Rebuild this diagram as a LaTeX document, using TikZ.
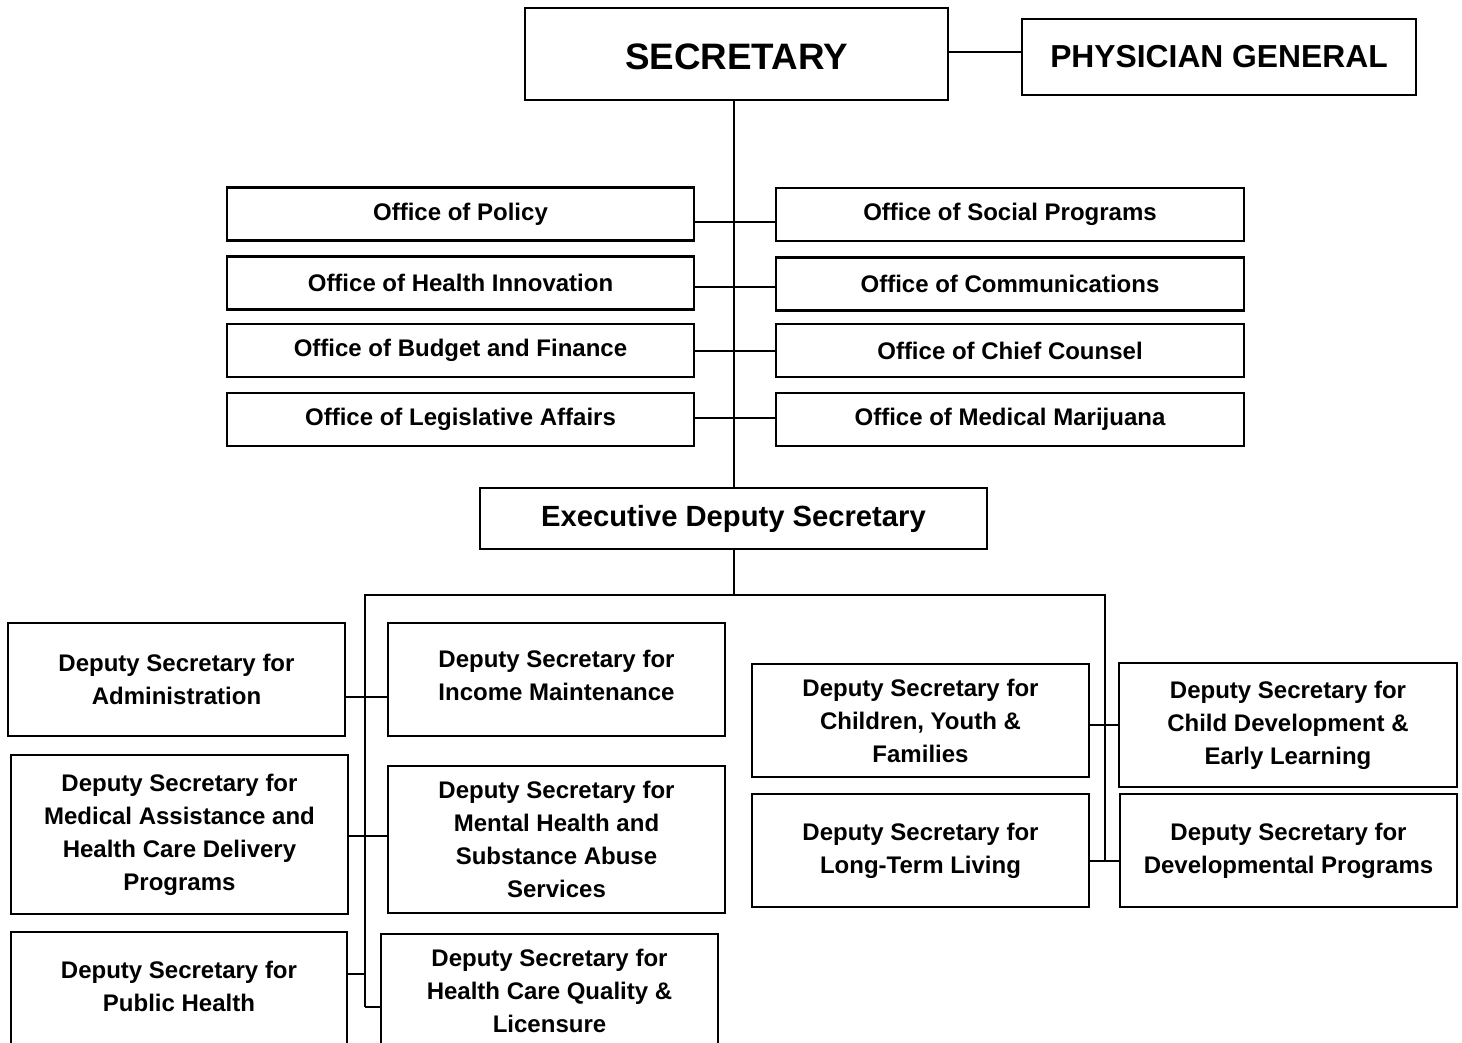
\documentclass[tikz,border=0pt]{standalone}
\usepackage{fontspec}
\setmainfont{Liberation Sans}
\begin{document}
\begin{tikzpicture}[x=0.5pt,y=-0.5pt,
  box/.style={draw=black,line width=1.1pt,rectangle,inner sep=0pt,align=center,font=\bfseries\fontsize{12}{16.5}\selectfont},
  txt/.style={inner sep=0pt,align=center,font=\bfseries\fontsize{12}{16.5}\selectfont},
  link/.style={draw=black,line width=1pt}]
\clip (0,0) rectangle (1462,1043);
% top
\node[box,minimum width=211.5pt,minimum height=46pt] (sec) at (736.5,54) {};
\node[txt,font=\bfseries\fontsize{18.4}{22}\selectfont] (sect) at (736.5,57) {SECRETARY};
\node[box,minimum width=197pt,minimum height=38pt,font=\bfseries\fontsize{15.9}{19}\selectfont] (phys) at (1219,57) {PHYSICIAN GENERAL};
% offices
\node[box,minimum width=233.5pt,minimum height=26.5pt] (pol) at (460.5,214) {Office of Policy};
\node[box,minimum width=233.5pt,minimum height=26.5pt] (inn) at (460.5,283) {Office of Health Innovation};
\node[box,minimum width=233.5pt,minimum height=26.5pt] (bud) at (460.5,350.5) {Office of Budget and Finance};
\node[box,minimum width=233.5pt,minimum height=26.5pt] (leg) at (460.5,419.5) {Office of Legislative Affairs};
\node[box,minimum width=234pt,minimum height=26.5pt] (soc) at (1010,214.5) {Office of Social Programs};
\node[box,minimum width=234pt,minimum height=26.5pt] (com) at (1010,284) {Office of Communications};
\node[box,minimum width=234pt,minimum height=26.5pt] (cc) at (1010,350.5) {Office of Chief Counsel};
\node[box,minimum width=234pt,minimum height=26.5pt] (mm) at (1010,419.5) {Office of Medical Marijuana};
% executive
\node[box,minimum width=253.5pt,minimum height=30.5pt,font=\bfseries\fontsize{14.6}{17}\selectfont] (exec) at (733.5,518.5) {Executive Deputy Secretary};
% deputies left
\node[box,minimum width=168.5pt,minimum height=56.5pt] (adm) at (176.5,679.5) {Deputy Secretary for\\Administration};
\node[box,minimum width=168.5pt,minimum height=79.5pt] (med) at (179.5,834.5) {Deputy Secretary for\\Medical Assistance and\\Health Care Delivery\\Programs};
\node[box,minimum width=168pt,minimum height=64.5pt,anchor=north] (ph) at (179,931) {};
\node[txt] (pht) at (179,986) {Deputy Secretary for\\Public Health};
\node[box,minimum width=168.5pt,minimum height=56.5pt] (inc) at (556.5,679.5) {};
\node[txt] (inct) at (556.5,675) {Deputy Secretary for\\Income Maintenance};
\node[box,minimum width=168.5pt,minimum height=73.5pt] (men) at (556.5,839.5) {Deputy Secretary for\\Mental Health and\\Substance Abuse\\Services};
\node[box,minimum width=168.5pt,minimum height=64.5pt,anchor=north] (hcq) at (549.5,933) {};
\node[txt] (hcqt) at (549.5,991) {Deputy Secretary for\\Health Care Quality \&\\Licensure};
% deputies right
\node[box,minimum width=168.5pt,minimum height=56.5pt] (chi) at (920.5,720.5) {Deputy Secretary for\\Children, Youth \&\\Families};
\node[box,minimum width=168.5pt,minimum height=56.5pt] (ltl) at (920.5,850.5) {Deputy Secretary for\\Long-Term Living};
\node[box,minimum width=169pt,minimum height=62pt] (cdev) at (1288,725) {Deputy Secretary for\\Child Development \&\\Early Learning};
\node[box,minimum width=168.5pt,minimum height=56.5pt] (dev) at (1288.5,850.5) {Deputy Secretary for\\Developmental Programs};
% coordinates
\coordinate (r0) at (0,52);
\coordinate (r1) at (0,222);
\coordinate (r2) at (0,287);
\coordinate (r3) at (0,351);
\coordinate (r4) at (0,418);
\coordinate (busL) at (365,595);
\coordinate (busR) at (1105,595);
\coordinate (lend) at (365,1007);
\coordinate (rend) at (1105,861);
\coordinate (ra) at (0,697);
\coordinate (rm) at (0,836);
\coordinate (rp) at (0,974);
\coordinate (rc) at (0,725);
% connectors
\draw[link] (exec.north) -- (exec.north |- sec.south);
\draw[link] (sec.east |- r0) -- (phys.west |- r0);
\draw[link] (pol.east |- r1) -- (soc.west |- r1);
\draw[link] (inn.east |- r2) -- (com.west |- r2);
\draw[link] (bud.east |- r3) -- (cc.west |- r3);
\draw[link] (leg.east |- r4) -- (mm.west |- r4);
\draw[link] (exec.south) -- (exec.south |- busL);
\draw[link] (lend) -- (busL) -- (busR) -- (rend);
\draw[link] (adm.east |- ra) -- (inc.west |- ra);
\draw[link] (med.east |- rm) -- (men.west |- rm);
\draw[link] (ph.east |- rp) -- (lend |- rp);
\draw[link] (lend) -- (hcq.west |- lend);
\draw[link] (chi.east |- rc) -- (cdev.west |- rc);
\draw[link] (ltl.east |- rend) -- (dev.west |- rend);
\end{tikzpicture}
\end{document}
